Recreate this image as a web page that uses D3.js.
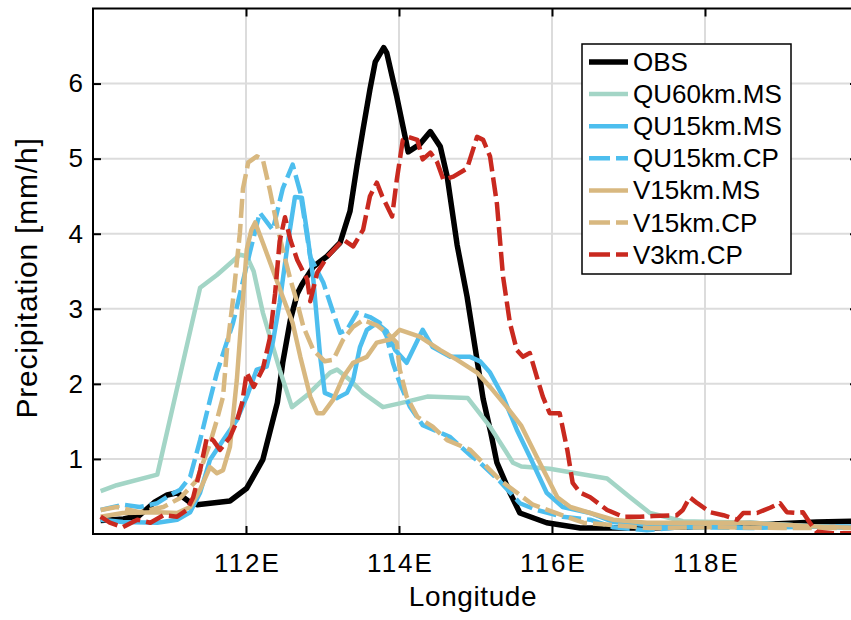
<!DOCTYPE html>
<html><head><meta charset="utf-8">
<script src="https://cdn.jsdelivr.net/npm/d3@7"></script>
<style>body{margin:0;background:#fff}svg{display:block;font-family:"Liberation Sans",Arial,Helvetica,sans-serif}</style>
</head><body><svg id="c" width="851" height="620"></svg>
<script>
// ---- data (longitude, precipitation mm/h) ----
const obs = [[110.1,0.18],[110.4,0.2],[110.61,0.25],[110.8,0.42],[110.97,0.52],[111.1,0.55],[111.27,0.42],[111.36,0.39],[111.79,0.44],[112.01,0.61],[112.22,0.99],[112.31,1.35],[112.41,1.75],[112.48,2.28],[112.58,2.85],[112.67,3.2],[112.73,3.32],[112.88,3.56],[113.06,3.7],[113.23,3.88],[113.36,4.3],[113.45,4.9],[113.53,5.39],[113.62,5.92],[113.69,6.29],[113.8,6.48],[113.84,6.41],[113.97,5.83],[114.08,5.29],[114.12,5.09],[114.27,5.19],[114.41,5.36],[114.54,5.16],[114.63,4.76],[114.76,3.85],[114.89,3.16],[115.0,2.45],[115.1,1.8],[115.2,1.35],[115.28,0.95],[115.45,0.55],[115.58,0.28],[115.93,0.15],[116.37,0.08],[117.28,0.08],[118.59,0.12],[119.46,0.16],[120,0.17]];
const qu60ms = [[110.1,0.57],[110.31,0.65],[110.84,0.79],[111.4,3.28],[111.62,3.45],[111.92,3.72],[112.01,3.7],[112.1,3.5],[112.22,2.95],[112.44,2.19],[112.6,1.69],[112.8,1.85],[113.1,2.15],[113.19,2.19],[113.36,2.05],[113.53,1.88],[113.79,1.69],[114.01,1.74],[114.37,1.83],[114.9,1.81],[115.19,1.43],[115.49,0.95],[115.6,0.9],[115.97,0.87],[116.72,0.74],[117.02,0.49],[117.28,0.28],[117.71,0.17],[118.59,0.15],[119.46,0.1],[120,0.08]];
const qu15ms = [[110.1,0.19],[110.39,0.16],[110.84,0.15],[111.1,0.19],[111.27,0.29],[111.4,0.55],[111.53,0.99],[111.7,1.25],[111.88,1.52],[112.01,1.83],[112.14,2.19],[112.27,2.23],[112.35,2.55],[112.44,3.08],[112.54,3.83],[112.64,4.49],[112.73,4.48],[112.8,4.01],[112.88,3.39],[112.97,2.36],[113.03,1.88],[113.19,1.81],[113.32,1.88],[113.4,2.05],[113.49,2.49],[113.58,2.72],[113.71,2.81],[113.84,2.7],[113.95,2.45],[114.1,2.28],[114.31,2.72],[114.44,2.49],[114.67,2.36],[114.93,2.36],[115.06,2.3],[115.19,2.15],[115.36,1.83],[115.54,1.39],[115.71,1.03],[115.93,0.55],[116.14,0.36],[116.5,0.28],[116.8,0.16],[117.24,0.12],[117.67,0.09],[118.59,0.15],[119.46,0.1],[120,0.08]];
const qu15cp = [[110.1,0.32],[110.39,0.39],[110.61,0.36],[110.84,0.41],[111.01,0.52],[111.14,0.59],[111.27,0.76],[111.4,1.25],[111.53,1.79],[111.62,2.15],[111.83,2.81],[112.05,3.75],[112.18,4.28],[112.35,4.05],[112.48,4.6],[112.61,4.92],[112.71,4.55],[112.84,3.69],[113.01,3.35],[113.14,2.95],[113.23,2.68],[113.32,2.72],[113.45,2.95],[113.62,2.89],[113.75,2.81],[113.84,2.63],[113.92,2.28],[114.01,2.01],[114.14,1.7],[114.31,1.45],[114.54,1.35],[114.67,1.29],[114.93,1.05],[115.06,0.95],[115.32,0.7],[115.58,0.41],[115.8,0.32],[116.14,0.23],[116.5,0.19],[116.8,0.09],[117.24,0.05],[117.67,0.09],[118.59,0.08],[119.46,0.1],[120,0.1]];
const v15ms = [[110.1,0.23],[110.39,0.28],[110.84,0.29],[111.1,0.28],[111.27,0.36],[111.4,0.59],[111.53,0.89],[111.62,0.81],[111.7,0.85],[111.79,1.16],[111.88,2.05],[111.95,3.0],[112.01,3.79],[112.07,4.05],[112.12,4.15],[112.22,3.88],[112.35,3.52],[112.48,3.16],[112.61,2.81],[112.71,2.36],[112.84,1.83],[112.93,1.61],[113.01,1.61],[113.14,1.79],[113.27,2.09],[113.4,2.28],[113.58,2.36],[113.71,2.55],[113.88,2.59],[114.01,2.72],[114.27,2.63],[114.54,2.45],[114.76,2.32],[115.02,2.15],[115.19,1.96],[115.41,1.69],[115.6,1.44],[115.8,1.03],[116.07,0.49],[116.24,0.36],[116.5,0.28],[116.8,0.19],[117.24,0.15],[117.71,0.15],[118.59,0.15],[119.46,0.1],[120,0.08]];
const v15cp = [[110.1,0.32],[110.31,0.36],[110.61,0.29],[110.92,0.36],[111.14,0.48],[111.36,0.72],[111.53,1.21],[111.62,1.52],[111.7,1.83],[111.75,2.45],[111.83,3.12],[111.92,4.01],[111.96,4.6],[112.03,4.95],[112.14,5.03],[112.22,4.99],[112.31,4.59],[112.41,4.09],[112.48,3.79],[112.58,3.39],[112.67,3.08],[112.75,2.76],[112.88,2.45],[113.03,2.3],[113.14,2.32],[113.27,2.59],[113.4,2.76],[113.53,2.85],[113.71,2.78],[113.84,2.68],[113.97,2.55],[114.01,2.19],[114.1,1.83],[114.24,1.56],[114.44,1.43],[114.63,1.25],[114.93,1.12],[115.32,0.72],[115.75,0.39],[116.41,0.15],[117.28,0.08],[118.16,0.09],[119.0,0.08],[120,0.08]];
const v3cp = [[110.1,0.23],[110.22,0.15],[110.39,0.09],[110.58,0.19],[110.75,0.15],[110.92,0.25],[111.1,0.23],[111.23,0.32],[111.31,0.49],[111.4,0.85],[111.49,1.29],[111.57,1.25],[111.66,1.12],[111.79,1.29],[111.88,1.5],[111.95,1.75],[112.01,2.15],[112.1,1.96],[112.22,2.2],[112.31,2.6],[112.38,3.2],[112.44,3.9],[112.51,4.22],[112.58,3.92],[112.67,3.65],[112.8,3.39],[112.84,3.1],[112.93,3.48],[113.06,3.69],[113.27,3.92],[113.4,3.83],[113.53,4.05],[113.62,4.5],[113.71,4.68],[113.78,4.5],[113.91,4.23],[113.97,4.71],[114.05,5.25],[114.12,5.29],[114.24,5.25],[114.31,4.99],[114.41,5.08],[114.5,4.95],[114.58,4.72],[114.71,4.76],[114.89,4.87],[115.02,5.29],[115.1,5.25],[115.19,5.03],[115.28,4.4],[115.36,3.43],[115.45,2.81],[115.54,2.45],[115.62,2.36],[115.71,2.41],[115.8,2.1],[115.88,1.83],[115.97,1.61],[116.1,1.61],[116.2,1.12],[116.27,0.68],[116.37,0.55],[116.5,0.49],[116.72,0.32],[116.93,0.23],[117.15,0.23],[117.32,0.24],[117.63,0.25],[117.71,0.32],[117.8,0.49],[117.9,0.41],[118.07,0.29],[118.24,0.25],[118.42,0.19],[118.5,0.28],[118.68,0.28],[118.85,0.35],[118.98,0.41],[119.07,0.29],[119.2,0.28],[119.28,0.29],[119.37,0.15],[119.46,0.03],[119.67,0.01],[120,0.01]];

const seriesNames = ["OBS","QU60km.MS","QU15km.MS","QU15km.CP","V15km.MS","V15km.CP","V3km.CP"];
const seriesData = [obs, qu60ms, qu15ms, qu15cp, v15ms, v15cp, v3cp];
const seriesColors = ["#000000","#a3d5c6","#4dbeee","#4dbeee","#d8b880","#d8b880","#c9291f"];
const seriesDashed = [false,false,false,true,false,true,true];
const xTicks = [112,114,116,118];
const xTickLabels = ["112E","114E","116E","118E"];
const yTicks = [1,2,3,4,5,6];

// ---- drawing ----
const svg = d3.select("#c");
const L=93, R=858, T=8.5, B=534;
const x = d3.scaleLinear().domain([110,120]).range([L,R]);
const y = d3.scaleLinear().domain([0,7]).range([B,T]);

svg.append("rect").attr("width",851).attr("height",620).attr("fill","#fff");
svg.append("defs").append("clipPath").attr("id","clip")
  .append("rect").attr("x",L).attr("y",T).attr("width",R-L).attr("height",B-T);

// grid
const grid = svg.append("g").attr("stroke","#dcdcdc").attr("stroke-width",2);
grid.selectAll("line.v").data(xTicks).join("line").attr("class","v")
  .attr("x1",d=>x(d)).attr("x2",d=>x(d)).attr("y1",T).attr("y2",B);
grid.selectAll("line.h").data(yTicks).join("line").attr("class","h")
  .attr("x1",L).attr("x2",R).attr("y1",d=>y(d)).attr("y2",d=>y(d));

// lines
const line = d3.line().x(d=>x(d[0])).y(d=>y(d[1]));
const lg = svg.append("g").attr("clip-path","url(#clip)");
seriesData.forEach((s,i)=>{
  lg.append("path").attr("d",line(s)).attr("fill","none")
    .attr("stroke",seriesColors[i]).attr("stroke-width",i===0?5.5:4.5)
    .attr("stroke-linejoin","round")
    .attr("stroke-dasharray",seriesDashed[i]?"19,6":null);
});

// axes
function styleAxis(g){
  g.select(".domain").remove();
  g.selectAll(".tick line").attr("stroke","#000").attr("stroke-width",2);
  g.attr("font-family",null).attr("font-size",null);
  g.selectAll("text").attr("fill","#000").style("font-size","26px").style("letter-spacing","2px");
}
svg.append("g").attr("transform",`translate(0,${B})`)
  .call(d3.axisBottom(x).tickValues(xTicks).tickSize(-8).tickPadding(19.5).tickFormat((d,i)=>xTickLabels[i]))
  .call(styleAxis)
  .call(g=>g.selectAll("text").attr("dx","1px"));
svg.append("g").attr("transform",`translate(${L},0)`)
  .call(d3.axisLeft(y).tickValues(yTicks).tickSize(-8).tickPadding(8).tickFormat(d3.format("d")))
  .call(styleAxis);
svg.append("g").attr("transform",`translate(0,${T})`)
  .call(d3.axisTop(x).tickValues(xTicks).tickSize(-8).tickFormat(""))
  .call(styleAxis);
svg.append("g").attr("transform",`translate(${R},0)`)
  .call(d3.axisRight(y).tickValues(yTicks).tickSize(-8).tickFormat(""))
  .call(styleAxis);

svg.append("rect").attr("x",L).attr("y",T).attr("width",R-L).attr("height",B-T)
  .attr("fill","none").attr("stroke","#000").attr("stroke-width",2);

// axis titles
svg.append("text").attr("x",473).attr("y",606).attr("text-anchor","middle")
  .style("font-size","28px").style("letter-spacing","0.6px").text("Longitude");
svg.append("text").attr("transform","translate(37,278) rotate(-90)").attr("text-anchor","middle")
  .style("font-size","30px").style("letter-spacing","0.8px").text("Precipitation [mm/h]");

// legend
const leg = svg.append("g");
leg.append("rect").attr("x",582).attr("y",44).attr("width",209).attr("height",230)
  .attr("fill","#fff").attr("stroke","#000").attr("stroke-width",1.5);
seriesNames.forEach((n,i)=>{
  const ry = 62 + i*32.1;
  leg.append("line").attr("x1",589).attr("x2",628).attr("y1",ry).attr("y2",ry)
    .attr("stroke",seriesColors[i]).attr("stroke-width",i===0?5.5:4.5)
    .attr("stroke-dasharray",seriesDashed[i]?"21,6":null);
  leg.append("text").attr("x",633).attr("y",ry+9).style("font-size","26px").text(n);
});
</script></body></html>
